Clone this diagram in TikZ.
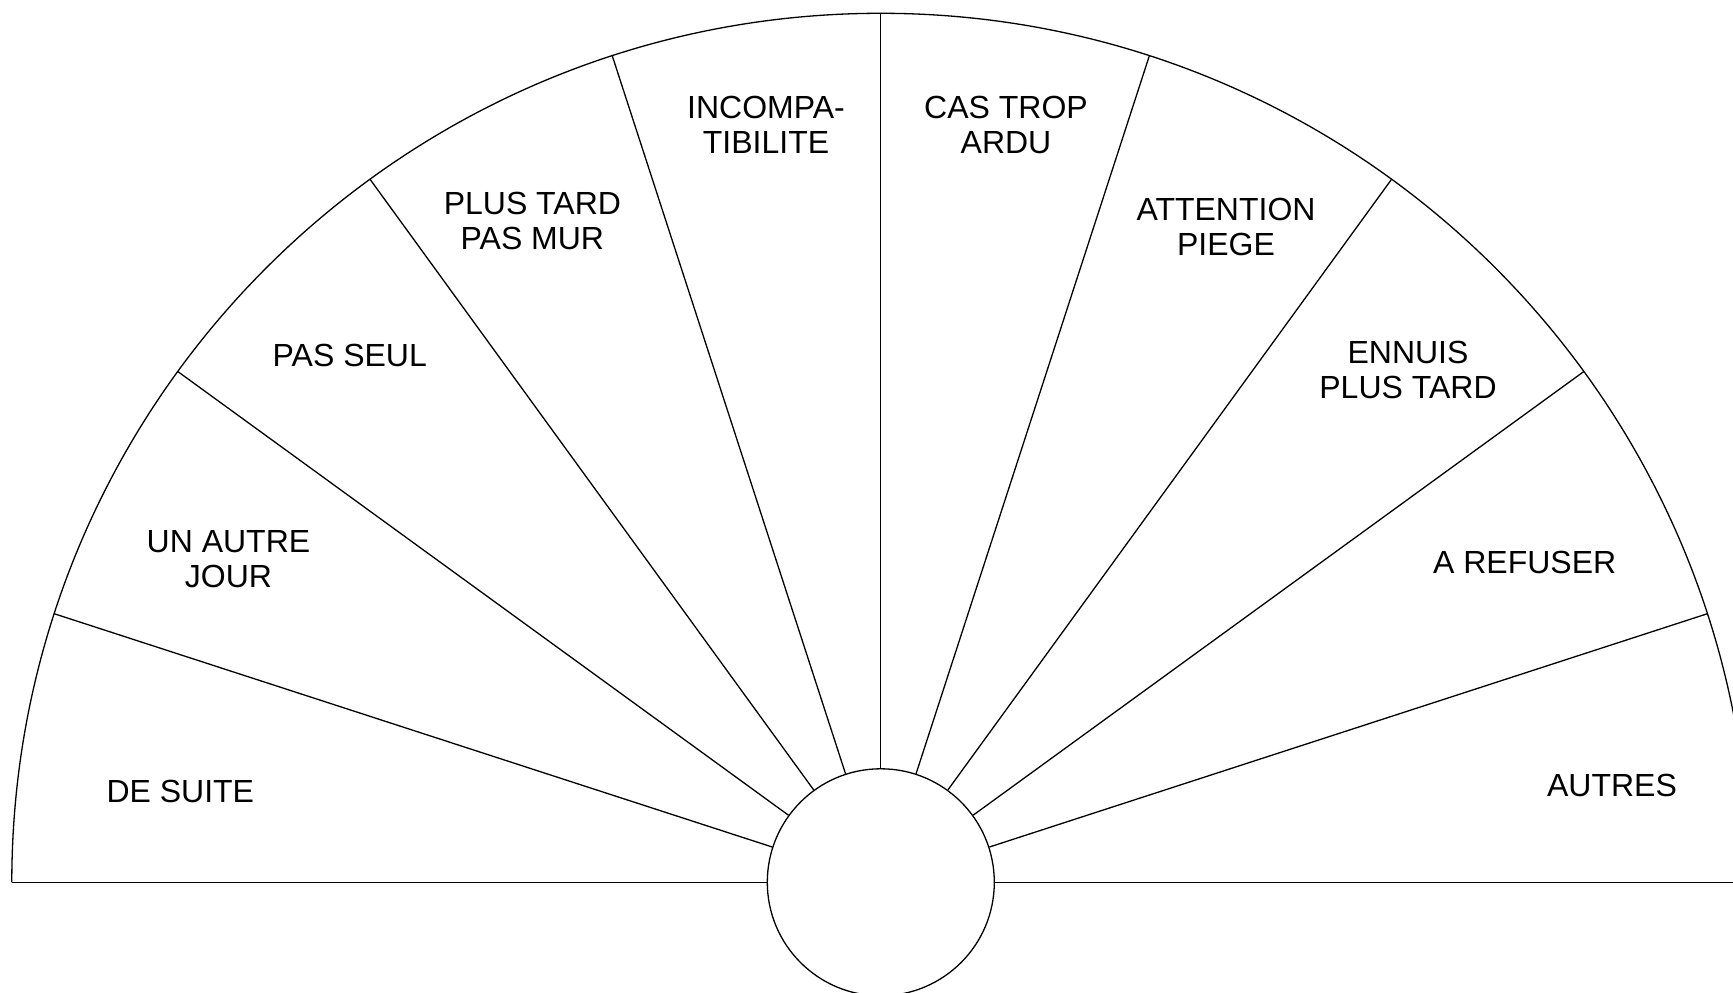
\documentclass[tikz,border=0pt]{standalone}
\usepackage{fontspec}
\setmainfont{Liberation Sans}
\usetikzlibrary{calc}
\tikzset{
  line/.style={line width=1.3pt, black},
  lbl/.style={anchor=base, align=center, inner sep=0pt, font=\fontsize{32}{35.2}\selectfont},
}
\begin{document}
\begin{tikzpicture}[x=1pt,y=1pt]
\useasboundingbox (0,0) rectangle (1733,993);
\clip (0,0) rectangle (1733,993);
\coordinate (O) at (880.8,110.7);
\fill[white] (0,0) rectangle (1733,993);
% hub
\node[line, draw, circle, minimum size=227pt, inner sep=0pt] (c) at (O) {};
% outer arc and baseline
\coordinate (L) at ($(O)+(180:869)$);
\coordinate (R) at ($(O)+(0:869)$);
\draw[line] (L) arc[start angle=180, end angle=0, radius=869];
\draw[line] (L) -- (c.west);
\draw[line] (c.east) -- (R);
% radial dividers
\foreach \a in {18,36,...,162}{
  \coordinate (e\a) at ($(O)+(\a:869)$);
  \draw[line] (c.\a) -- (e\a);
}
% labels (anchor = baseline of the last line; positions as image px: x, 993-y)
\node[lbl] (t1) at (180.3, 993-802.3) {DE SUITE};
\node[lbl] (t2) at (228.5, 993-588.0) {UN AUTRE\\JOUR};
\node[lbl] (t3) at (349.8, 993-366.7) {PAS SEUL};
\node[lbl] (t4) at (532.4, 993-249.3) {PLUS TARD\\PAS MUR};
\node[lbl] (t5) at (766.0, 993-154.0) {INCOMPA-\\TIBILITE};
\node[lbl] (t6) at (1006.0, 993-154.0) {CAS TROP\\ARDU};
\node[lbl] (t7) at (1226.0, 993-255.3) {ATTENTION\\PIEGE};
\node[lbl] (t8) at (1408.0, 993-399.0) {ENNUIS\\PLUS TARD};
\node[lbl] (t9) at (1524.7, 993-574.0) {A REFUSER};
\node[lbl] (t10) at (1612.0, 993-796.7) {AUTRES};
\end{tikzpicture}
\end{document}
